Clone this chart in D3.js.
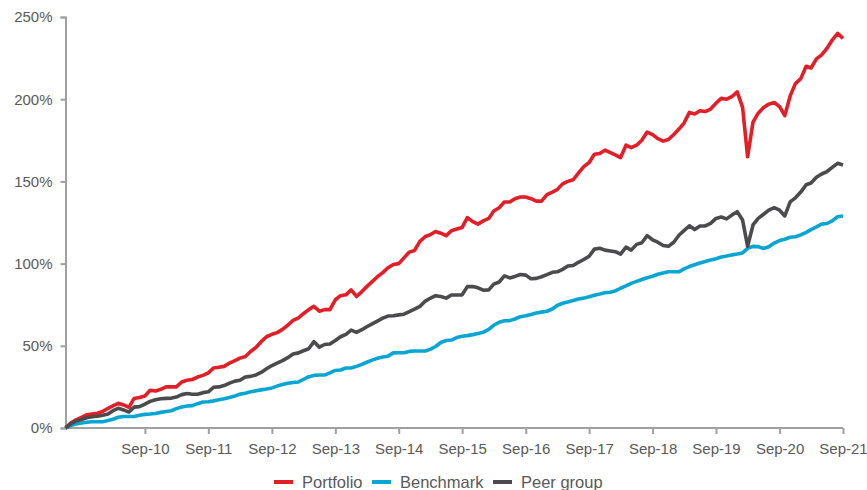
<!DOCTYPE html>
<html>
<head>
<meta charset="utf-8">
<script src="https://cdn.jsdelivr.net/npm/d3@7"></script>
<style>
  body { margin: 0; background: #fff; }
  svg { display: block; font-family: "Liberation Sans", Arial, sans-serif; }
</style>
</head>
<body>
<div id="chart"></div>
<script>

// monthly, Jun-09 .. Sep-21 (cumulative return, %)
let months = d3.timeMonth.range(new Date(2009, 5, 1), new Date(2021, 9, 1));

let portfolio = [
  0, 3, 5, 6.5, 8, 8.5, 9, 10, 12, 13.5, 15, 14, 12.5, 18, 18.5, 19.5,
  23, 22.5, 23.5, 25, 25, 25, 28, 29, 29.5, 31, 32, 33.5, 36.5, 37, 37.5, 39.5,
  41, 42.5, 43.5, 46.5, 49, 52.5, 55.5, 57, 58, 60, 62.5, 65.5, 67, 69.5, 72, 74,
  71, 72, 72, 78, 80.5, 81, 84, 80, 83, 86, 89, 92, 94.5, 97.5, 99.5, 100,
  103.5, 107, 108, 113.5, 116.5, 117.5, 119.5, 118.5, 117, 120, 121, 122, 128, 125.5, 124, 126,
  127.5, 132, 134, 137.5, 137.5, 139.5, 140.5, 140.5, 139.5, 138, 138, 142, 143.5, 145, 148.5, 150,
  151, 155, 159, 161.5, 166.5, 167, 169, 167.5, 166, 164.5, 172, 170.5, 172, 175, 180, 178.5,
  176, 174.5, 175.5, 178.5, 182, 185.5, 192, 191, 193, 192.5, 194, 197.5, 200.5, 200, 201.5, 204.5,
  195, 165, 186, 191.5, 195, 197, 198, 195.5, 190, 202, 209.5, 212.5, 220, 219, 224.5, 227,
  231, 236, 240, 237
];

let benchmark = [
  0, 1.5, 2.5, 3, 3.5, 3.8, 3.8, 3.8, 4.5, 5.3, 6.5, 7, 7, 7, 7.8, 8.3,
  8.5, 8.8, 9.5, 10, 10.5, 11.8, 12.8, 13.4, 13.6, 14.8, 15.8, 16, 16.5, 17.2, 17.8, 18.5,
  19.5, 20.6, 21.2, 22, 22.6, 23.2, 23.7, 24.4, 25.5, 26.4, 27.2, 27.7, 28, 29.5, 31.2, 32,
  32.2, 32.2, 33.5, 35, 35.3, 36.5, 36.5, 37.5, 38.7, 40, 41.3, 42.4, 43.2, 43.7, 45.7, 45.8,
  45.8, 46.6, 46.8, 46.8, 46.8, 47.8, 49.6, 52, 53.2, 53.5, 55, 55.8, 56.2, 56.8, 57.5, 58.3,
  60, 62.5, 64.3, 65.2, 65.3, 66.3, 67.7, 68.3, 69, 70, 70.5, 71, 72.4, 74.5, 75.9, 76.7,
  77.5, 78.5, 79, 79.8, 80.8, 81.5, 82.3, 82.6, 83.5, 85, 86.4, 88, 89.2, 90.3, 91.4, 92.3,
  93.5, 94.3, 95, 95, 95, 96.8, 98.2, 99.3, 100.4, 101.3, 102.2, 103, 104, 104.6, 105.3, 105.8,
  106.5, 109.3, 110.5, 110.3, 109.2, 110.2, 112.5, 114, 114.8, 116, 116.3, 117.5, 119, 120.7, 122.3, 124,
  124.4, 126, 128.5, 129
];

let peer = [
  0, 2.5, 4.3, 5.2, 6.2, 6.8, 7.2, 7.8, 8.5, 10.5, 12, 11, 9.7, 12.7, 13, 14.5,
  16.2, 17.2, 17.8, 18, 18.2, 18.8, 20.3, 21, 20.5, 20.5, 21.5, 22, 24.8, 25, 25.8, 27.3,
  28.5, 29, 31, 31.4, 32.3, 33.8, 36, 38, 39.5, 41, 42.8, 45, 45.7, 47, 48.2, 52.5,
  49.2, 50.8, 51.1, 53.2, 55.5, 57, 59.5, 58.2, 59.8, 61.6, 63.3, 65, 66.8, 68.1, 68.3, 68.8,
  69.2, 70.8, 72.3, 74, 77.2, 78.9, 80.5, 80, 79, 80.9, 80.9, 81, 86, 86, 85.3, 83.8,
  84, 87.5, 88.8, 92.5, 91.3, 92.2, 93.4, 93, 90.8, 91, 92, 93.3, 94.7, 95, 96.5, 98.5,
  98.8, 100.8, 102.5, 104.5, 108.8, 109.3, 108.2, 107.7, 107.2, 105.8, 110, 108.2, 111.7, 112.7, 117, 114.5,
  113, 111, 110.5, 113, 117.4, 120, 123, 120.7, 122.9, 122.9, 124.5, 127.5, 128.3, 127.2, 129.5, 131.6,
  126.5, 110.5, 123.5, 127.5, 130, 132.5, 134, 132.5, 129, 137.5, 140, 143.5, 148, 149, 152.5, 154.5,
  156, 158.5, 161, 160
];

let seriesNames = ['Portfolio', 'Benchmark', 'Peer group'];
let seriesColors = ['#e31e26', '#0aa6d3', '#4b4b4d'];
let yTicks = [0, 50, 100, 150, 200, 250];
let tickYears = d3.range(2010, 2022);   // Sep-10 .. Sep-21

let width = 867, height = 490;
let svg = d3.select('#chart')
  .append('svg')
    .attr('width', width)
    .attr('height', height)
;

let x = d3.scaleTime()
  .domain([months[0], months[months.length - 1]])
  .range([65.5, 843]);

let y = d3.scaleLinear()
  .domain([0, 250])
  .range([428, 17]);

let axisColor = '#a0a0a0';
let textColor = '#595959';

// y axis
let yAxis = svg.append('g')
  .attr('transform', 'translate(65.5,0)')
  .call(d3.axisLeft(y).tickValues(yTicks).tickSize(5).tickPadding(8)
    .tickFormat(d => d + '%'));
yAxis.select('.domain').attr('stroke', axisColor).attr('stroke-width', 2);
yAxis.selectAll('.tick line').attr('stroke', axisColor).attr('stroke-width', 2);
yAxis.selectAll('.tick text')
  .attr('fill', textColor)
  .style('font-size', '15px');

// x axis, a tick every September from 2010
let sepTicks = months.filter(d => d.getMonth() == 8 && tickYears.includes(d.getFullYear()));
let xAxis = svg.append('g')
  .attr('transform', 'translate(0,428)')
  .call(d3.axisBottom(x).tickValues(sepTicks).tickSize(6).tickPadding(9)
    .tickFormat(d3.timeFormat('%b-%y')));
xAxis.select('.domain').attr('stroke', axisColor).attr('stroke-width', 2)
  .attr('d', 'M65.5,0H843');
xAxis.selectAll('.tick line').attr('stroke', axisColor).attr('stroke-width', 2);
xAxis.selectAll('.tick text')
  .attr('fill', textColor)
  .style('font-size', '15px');

// lines
let allSeries = [portfolio, benchmark, peer];
let line = d3.line()
  .x((d, i) => x(months[i]))
  .y(d => y(d));

svg.selectAll('.series').data(allSeries)
  .enter()
  .append('path')
    .attr('class', 'series')
    .attr('d', line)
    .attr('fill', 'none')
    .attr('stroke', (d, i) => seriesColors[i])
    .attr('stroke-width', 3.6)
    .attr('stroke-linejoin', 'round')
;

// legend
let legendX = [274, 372, 493];
let legend = svg.selectAll('.legend').data(seriesNames)
  .enter()
  .append('g')
    .attr('class', 'legend')
    .attr('transform', (d, i) => 'translate(' + legendX[i] + ',482)')
;
legend.append('line')
  .attr('x1', 0).attr('x2', 19)
  .attr('stroke', (d, i) => seriesColors[i])
  .attr('stroke-width', 4);
legend.append('text')
  .attr('x', 28)
  .attr('dy', '0.35em')
  .attr('fill', textColor)
  .style('font-size', '16.5px')
  .text(d => d);

</script>
</body>
</html>
